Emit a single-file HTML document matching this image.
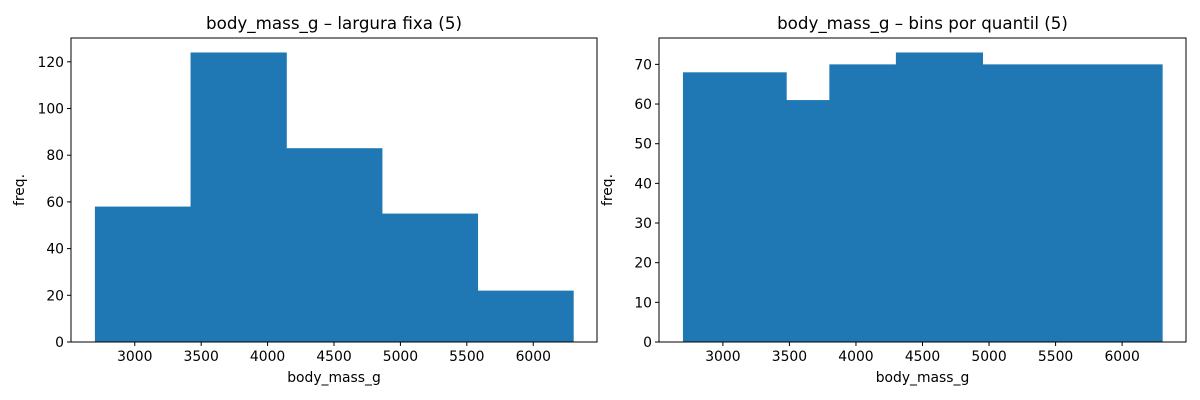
<!DOCTYPE html>
<html><head><meta charset="utf-8"><style>
html,body{margin:0;padding:0;background:#fff;}
svg{display:block;font-family:"DejaVu Sans","Liberation Sans",sans-serif;}
</style></head><body>
<svg id="chart" width="1200" height="400" viewBox="0 0 1200 400"></svg>
<script>
const edgesLeft = [2700, 3420, 4140, 4860, 5580, 6300];
const countsLeft = [58, 124, 83, 55, 22];
const edgesRight = [2700, 3475, 3800, 4300, 4950, 6300];
const countsRight = [68, 61, 70, 73, 70];
const xTicks = [3000, 3500, 4000, 4500, 5000, 5500, 6000];
const yTicksLeft = [0, 20, 40, 60, 80, 100, 120];
const yTicksRight = [0, 10, 20, 30, 40, 50, 60, 70];
const titleLeft = "body_mass_g \u2013 largura fixa (5)";
const titleRight = "body_mass_g \u2013 bins por quantil (5)";

const NS = "http://www.w3.org/2000/svg";
const svg = document.getElementById("chart");
function mk(tag, attrs, parent){
  const e = document.createElementNS(NS, tag);
  for (const k in attrs) e.setAttribute(k, attrs[k]);
  parent.appendChild(e);
  return e;
}
function panel(id, x0, x1, yTop, yBot, edges, counts, yTicks, title){
  const g = mk("g", {}, svg);
  
  
  const xmin = 2520, xmax = 6480;
  const ymax = Math.max(...counts) * 1.05;
  const sx = v => x0 + (v - xmin) / (xmax - xmin) * (x1 - x0);
  const sy = v => yBot - v / ymax * (yBot - yTop);
  for (let i = 0; i < counts.length; i++) {
    const r = mk("rect", {x: sx(edges[i]), y: sy(counts[i]), width: sx(edges[i+1]) - sx(edges[i]) + 0.6, height: yBot - sy(counts[i]), fill: "#1f77b4"}, g);
    
    
  }
  const frame = mk("rect", {x: x0, y: yTop, width: x1 - x0, height: yBot - yTop, fill: "none", stroke: "#000", "stroke-width": 1}, g);
  
  
  xTicks.forEach(t => {
    const x = sx(t);
    mk("line", {x1: x, x2: x, y1: yBot, y2: yBot + 4, stroke: "#000"}, g);
    const tx = mk("text", {x: x, y: yBot + 19, "font-size": 13.9, "text-anchor": "middle", fill: "#000"}, g);
    tx.textContent = t;
    
    
  });
  yTicks.forEach(t => {
    const y = sy(t);
    mk("line", {x1: x0 - 4, x2: x0, y1: y, y2: y, stroke: "#000"}, g);
    const tx = mk("text", {x: x0 - 7, y: y + 5, "font-size": 13.9, "text-anchor": "end", fill: "#000"}, g);
    tx.textContent = t;
    
    
  });
  const xl = mk("text", {x: (x0 + x1) / 2, y: yBot + 40, "font-size": 13.9, "text-anchor": "middle"}, g);
  xl.textContent = "body_mass_g";
  
  
  const yx = x0 - 47, yy = (yTop + yBot) / 2;
  const yl = mk("text", {x: yx, y: yy, "font-size": 13.9, "text-anchor": "middle", transform: "rotate(-90 " + yx + " " + yy + ")"}, g);
  yl.textContent = "freq.";
  
  
  const tt = mk("text", {x: (x0 + x1) / 2, y: yTop - 9, "font-size": 16.7, "text-anchor": "middle"}, g);
  tt.textContent = title;
  
  
}
panel("left", 71, 597, 38, 342, edgesLeft, countsLeft, yTicksLeft, titleLeft);
panel("right", 659, 1186, 38, 342, edgesRight, countsRight, yTicksRight, titleRight);
</script>
</body></html>
